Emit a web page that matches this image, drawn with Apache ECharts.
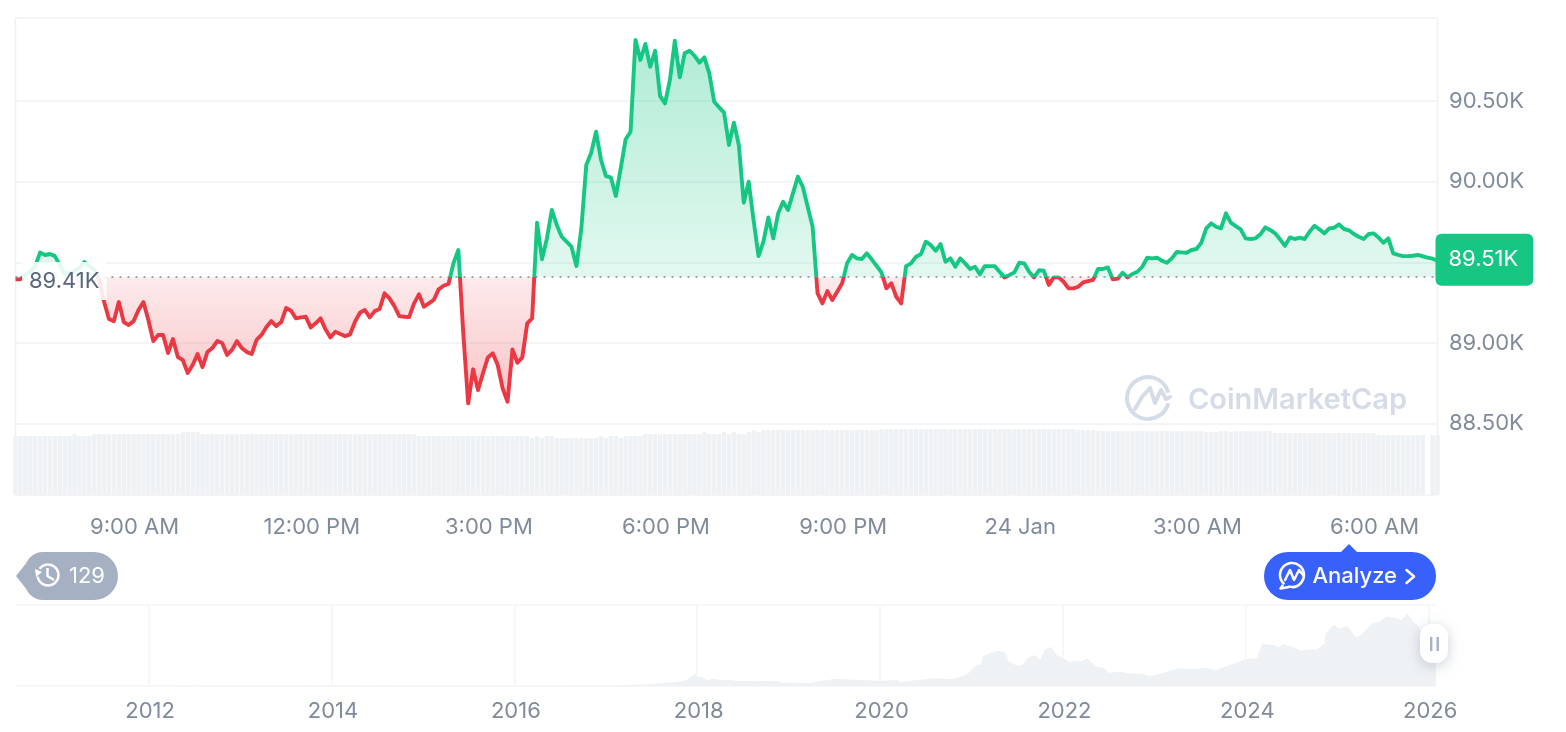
<!DOCTYPE html>
<html>
<head>
<meta charset="utf-8">
<style>
  html, body { margin: 0; padding: 0; background: #fff; }
  #chart { width: 1566px; height: 732px; }
</style>
<script src="https://cdn.jsdelivr.net/npm/echarts@6/dist/echarts.min.js"></script>
</head>
<body>
<div id="chart"></div>
<script>
   // price every 5 minutes
   var prices = [
      89395,89395,89422,89440,89477,89561,89546,89552,89539,89484,89428,89434,89446,89465,89502,89477,89453,89391,89256,89149,
      89136,89254,89130,89112,89136,89205,89254,89143,89012,89050,89050,88938,89025,88913,88895,88814,88864,88932,88851,88944,
      88969,89012,89000,88926,88957,89012,88969,88944,88932,89019,89050,89099,89136,89105,89130,89217,89200,89153,89159,89163,
      89097,89122,89153,89085,89035,89070,89056,89043,89054,89132,89188,89205,89159,89198,89211,89308,89277,89229,89167,89163,
      89161,89246,89302,89225,89246,89267,89333,89355,89366,89494,89577,89062,88626,88837,88709,88812,88911,88936,88864,88719,
      88636,88961,88878,88911,89122,89153,89746,89519,89649,89825,89732,89659,89628,89597,89477,89711,90104,90180,90310,90135,
      90035,90027,89911,90083,90263,90310,90879,90755,90854,90713,90812,90531,90486,90631,90874,90647,90796,90812,90781,90738,
      90771,90672,90496,90461,90428,90228,90366,90228,89870,90000,89763,89539,89628,89779,89649,89804,89876,89825,89928,90031,
      89969,89845,89721,89310,89246,89322,89267,89318,89370,89494,89546,89525,89521,89556,89519,89479,89438,89339,89370,89287,
      89246,89477,89494,89535,89550,89628,89608,89572,89614,89504,89525,89473,89525,89494,89459,89473,89426,89477,89477,89477,
      89442,89407,89422,89438,89498,89494,89442,89407,89451,89448,89360,89407,89407,89380,89339,89339,89349,89376,89384,89391,
      89459,89459,89469,89395,89399,89436,89407,89428,89442,89473,89529,89525,89529,89510,89498,89525,89564,89562,89560,89577,
      89583,89622,89711,89742,89721,89711,89804,89746,89725,89705,89649,89645,89649,89674,89717,89701,89680,89643,89603,89655,
      89645,89653,89645,89690,89727,89705,89680,89711,89715,89736,89707,89699,89676,89659,89645,89676,89680,89655,89622,89649,
      89556,89546,89539,89539,89541,89546,89538,89529,89523,89510
   ];
   // relative volume, same 5 minute steps
   var volumes = [
      59,59,59,59,59,59,59,59,59,59,59,59,61,59,59,59,61,61,61,61,
      61,61,61,61,61,61,61,61,61,61,61,61,61,61,63,63,63,63,61,61,
      61,61,61,61,61,61,61,61,61,61,61,61,61,61,61,61,61,61,61,61,
      61,61,61,61,61,61,61,61,61,61,61,61,61,61,61,61,61,61,61,61,
      61,61,59,59,59,59,59,59,59,59,59,59,59,59,59,59,59,59,59,59,
      59,59,59,59,59,57,59,57,59,59,57,57,57,57,57,57,57,57,57,59,
      57,59,59,57,59,59,59,59,61,61,61,61,61,61,61,61,61,61,61,61,
      63,61,61,61,63,61,63,61,61,63,65,63,65,65,65,65,65,65,65,65,
      65,65,65,65,65,65,65,65,65,65,65,65,65,65,65,65,66,66,66,66,
      66,66,66,66,66,66,66,66,66,66,66,66,66,66,66,66,66,66,66,66,
      66,66,66,66,66,66,66,66,66,66,66,66,66,66,66,66,65,65,65,65,
      64,64,64,64,64,64,64,64,64,64,64,64,64,64,64,64,64,64,64,64,
      64,64,63,63,63,64,64,63,64,64,64,64,64,64,64,64,62,62,62,62,
      62,62,62,62,62,62,62,62,62,62,62,62,62,62,62,62,62,60,60,60,
      60,60,60,60,60,60,60,null,60,60
   ];
   var priceTicks = [88500, 89000, 89500, 90000, 90500];
   var basePrice = 89410;
   var lastPriceLabel = '89.51K';
   var timeLabels = ['9:00 AM', '12:00 PM', '3:00 PM', '6:00 PM', '9:00 PM', '24 Jan', '3:00 AM', '6:00 AM'];

   // all-time overview below the main chart, price in thousands
   var navYears = [
      2010.55,2012,2014.01,2016,2016.93,2017.37,2017.59,2017.77,2017.88,2017.94,2017.97,2018.01,2018.06,2018.11,2018.19,2018.26,2018.33,2018.46,2018.61,2018.9,
      2018.93,2019.23,2019.37,2019.52,2019.7,2019.85,2020,2020.18,2020.23,2020.43,2020.62,2020.79,2020.9,2020.96,2021.01,2021.07,2021.1,2021.12,2021.2,2021.29,
      2021.37,2021.41,2021.45,2021.5,2021.56,2021.61,2021.69,2021.75,2021.8,2021.87,2021.93,2021.98,2022.07,2022.15,2022.2,2022.26,2022.37,2022.46,2022.49,2022.62,
      2022.73,2022.87,2022.93,2023.02,2023.13,2023.28,2023.46,2023.53,2023.68,2023.8,2023.97,2024.06,2024.12,2024.18,2024.29,2024.37,2024.4,2024.51,2024.61,2024.68,
      2024.77,2024.86,2024.87,2024.97,2025.01,2025.11,2025.21,2025.26,2025.37,2025.46,2025.54,2025.66,2025.7,2025.77,2025.83,2025.88,2025.94,2026.08
   ];
   var navPrices = [
      0,0.01,0.8,0.43,0.8,2,4.6,6.9,10.3,17,20.7,16,15,10.3,12.6,9.8,10.9,8.6,9.1,8.1,
      5.7,5.2,9.1,12.6,10.9,10.3,8.6,10.9,7.4,10.9,13.3,12.1,17.2,20.7,30.5,37.4,36.2,50.5,56.4,60.9,
      58.1,41.9,39.1,35,36.2,47.8,53.4,44.8,62,67.8,53.4,49.5,41.9,43.6,41.9,47.8,33.3,30.5,22.9,24.7,
      21.9,20.7,17.8,19,24.7,30.5,28.8,31.6,27.6,35,44.8,47.8,47.8,73.6,70.7,66.7,72.4,67.8,60.9,63.3,
      63.3,73.6,90.9,106.9,99.5,103.4,84,87.9,106.9,110.9,120.7,116.7,113.8,125.3,110.9,105,88,89.5
   ];
   var navTicks = [2012, 2014, 2016, 2018, 2020, 2022, 2024, 2026];

   var GREEN = '#16c784', RED = '#ea3943', TEXT = '#808a9d', LINE = '#eff2f5', BAR = '#eff2f5';
   var FONT = 'Inter';

   // 5 minute categories starting at 7:00 AM
   var times = [];
   for (var i = 0; i < prices.length; i++) {
      var m = 420 + i * 5, h = Math.floor(m / 60) % 24, mm = m % 60;
      var t = (h % 12 === 0 ? 12 : h % 12) + ':' + (mm < 10 ? '0' : '') + mm + (h < 12 ? ' AM' : ' PM');
      times.push(h === 0 && mm === 0 ? '24 Jan' : t);
   }

   var navData = [];
   for (var j = 0; j < navYears.length; j++) navData.push([navYears[j], navPrices[j]]);

   // where the base price sits in the area polygon, green above and red below
   var pMax = Math.max.apply(null, prices), pMin = Math.min.apply(null, prices);
   var baseStop = (pMax - basePrice) / (pMax - pMin);

   var chart = echarts.init(document.getElementById('chart'));
   var option = {
      animation: false,
      backgroundColor: '#fff',
      textStyle: { fontFamily: FONT },
      grid: [
         { left: 15.5, width: 1422, top: 18, height: 477, show: true, borderColor: LINE, borderWidth: 1.5 },
         { left: 16, width: 1420, top: 605, height: 81 }
      ],
      xAxis: [
         {
            type: 'category', gridIndex: 0, data: times, boundaryGap: false,
            axisLine: { show: false }, axisTick: { show: false }, splitLine: { show: false },
            axisLabel: {
               color: TEXT, fontSize: 22, fontFamily: FONT, margin: 21, padding: [0, 0, 0, 2],
               interval: function (idx, val) { return timeLabels.indexOf(val) >= 0; }
            }
         },
         {
            type: 'value', gridIndex: 1, min: 2010.55, max: 2026.08,
            axisLine: { show: false }, 
            axisTick: { show: false, customValues: navTicks },
            splitLine: { show: true, lineStyle: { color: '#f3f5f7', width: 1.5 } },
            axisLabel: {
               customValues: navTicks, color: TEXT, fontSize: 22, fontFamily: FONT, margin: 14, padding: [0, 0, 0, 3],
               formatter: function (v) { return String(v); }
            }
         }
      ],
      yAxis: [
         {
            type: 'value', gridIndex: 0, position: 'right', min: 88058, max: 91015,
            axisLine: { show: false },
            axisTick: { show: false, customValues: priceTicks },
            splitLine: { show: true, lineStyle: { color: LINE, width: 1.5 } },
            axisLabel: {
               customValues: priceTicks, color: TEXT, fontSize: 22, fontFamily: FONT, margin: 11.5,
               formatter: function (v) { return (v / 1000).toFixed(2) + 'K'; }
            }
         },
         {
            type: 'value', gridIndex: 0, min: 0, max: 477, show: false, splitLine: { show: false }
         },
         {
            type: 'value', gridIndex: 1, min: 0, max: 140, interval: 140,
            axisLine: { show: false }, axisTick: { show: false }, axisLabel: { show: false },
            splitLine: { show: true, lineStyle: { color: '#f3f5f7', width: 1.5 } }
         }
      ],
      visualMap: {
         show: false, type: 'piecewise', seriesIndex: 1, dimension: 1,
         // both pieces need finite ends or the line gets no colour stops
         pieces: [{ gte: 80000, lt: basePrice, color: RED }, { gte: basePrice, lte: 100000, color: GREEN }]
      },
      series: [
         {
            name: 'Volume', type: 'bar', xAxisIndex: 0, yAxisIndex: 1, data: volumes, barWidth: 4.5,
            silent: true, itemStyle: { color: BAR, borderRadius: [1, 1, 0, 0] }, z: 1
         },
         {
            name: 'Price', type: 'line', xAxisIndex: 0, yAxisIndex: 0, data: prices, z: 3,
            showSymbol: false, symbol: 'none', smooth: false, sampling: false,
            lineStyle: { width: 3.9, join: 'round' },
            areaStyle: {
               origin: basePrice, opacity: 1,
               color: {
                  type: 'linear', x: 0, y: 0, x2: 0, y2: 1,
                  colorStops: [
                     { offset: 0, color: 'rgba(22,199,132,0.34)' },
                     { offset: baseStop, color: 'rgba(22,199,132,0.12)' },
                     { offset: baseStop, color: 'rgba(234,57,67,0.1)' },
                     { offset: 1, color: 'rgba(234,57,67,0.3)' }
                  ]
               }
            },
            endLabel: {
               show: true, formatter: lastPriceLabel, distance: -2, offset: [0, -1],
               color: '#fff', fontSize: 22, fontFamily: FONT, lineHeight: 22,
               backgroundColor: GREEN, borderRadius: 6, padding: [15, 15, 15, 13]
            },
            markLine: {
               silent: true, symbol: 'none', animation: false,
               lineStyle: { type: [2, 6], color: TEXT, width: 1.5 },
               label: {
                  show: true, position: 'insideStartBottom', formatter: (basePrice / 1000).toFixed(2) + 'K',
                  color: '#58667e', fontSize: 22, fontFamily: FONT, lineHeight: 22, distance: [6.5, -15],
                  backgroundColor: 'rgba(255,255,255,0.88)', padding: [8, 7, 8, 7]
               },
               data: [{ yAxis: basePrice }]
            }
         },
         {
            name: 'All time', type: 'line', xAxisIndex: 1, yAxisIndex: 2, data: navData,
            showSymbol: false, symbol: 'none', silent: true,
            lineStyle: { width: 0 }, areaStyle: { color: BAR, opacity: 1 }
         }
      ],
      graphic: [
         // watermark
         { type: 'arc', z: 2, shape: { cx: 1148, cy: 398, r: 21, startAngle: 0.08 * Math.PI, endAngle: 1.92 * Math.PI, clockwise: true },
           style: { stroke: '#d5dce8', lineWidth: 4, fill: null } },
         { type: 'polyline', z: 2, shape: { points: [[1135, 409], [1142, 397], [1150, 388], [1155, 403], [1161, 390], [1166, 399], [1170, 397]] },
           style: { stroke: '#d5dce8', lineWidth: 4, fill: null, lineJoin: 'round', lineCap: 'round' } },
         { type: 'text', z: 2, style: { x: 1188, y: 400, text: 'CoinMarketCap', fill: '#d5dce8', font: '600 29px Inter', verticalAlign: 'middle' } },

         // history pill
         { type: 'polygon', z: 5, shape: { points: [[16, 576], [31, 557], [31, 595]] }, style: { fill: '#a6b0c3' } },
         { type: 'rect', z: 5, shape: { x: 25, y: 552, width: 93, height: 48, r: [18, 24, 24, 18] }, style: { fill: '#a6b0c3' } },
         { type: 'arc', z: 6, shape: { cx: 48, cy: 575, r: 10.5, startAngle: 1.2 * Math.PI, endAngle: 0.95 * Math.PI, clockwise: true },
           style: { stroke: '#fff', lineWidth: 2.4, fill: null } },
         { type: 'polyline', z: 6, shape: { points: [[47.5, 568], [47.5, 576], [54, 580]] }, style: { stroke: '#fff', lineWidth: 2.4, fill: null } },
         { type: 'polygon', z: 6, shape: { points: [[35, 569], [42, 572], [36, 577]] }, style: { fill: '#fff' } },
         { type: 'text', z: 6, style: { x: 69, y: 576, text: '129', fill: '#fff', font: '22px Inter', verticalAlign: 'middle' } },

         // analyze button
         { type: 'polygon', z: 5, shape: { points: [[1349, 544], [1340, 553], [1358, 553]] }, style: { fill: '#3861fb' } },
         { type: 'rect', z: 5, shape: { x: 1264, y: 552, width: 172, height: 48, r: 24 }, style: { fill: '#3861fb' } },
         { type: 'arc', z: 6, shape: { cx: 1292, cy: 575, r: 12, startAngle: 0.72 * Math.PI, endAngle: 0.6 * Math.PI, clockwise: true },
           style: { stroke: '#fff', lineWidth: 2.5, fill: null } },
         { type: 'polyline', z: 6, shape: { points: [[1283, 585], [1280.5, 588.5], [1289, 587]] }, style: { stroke: '#fff', lineWidth: 2.5, fill: null, lineJoin: 'round' } },
         { type: 'polyline', z: 6, shape: { points: [[1285, 580], [1290, 570], [1294, 580], [1299, 570], [1303, 575]] },
           style: { stroke: '#fff', lineWidth: 2.5, fill: null, lineJoin: 'round', lineCap: 'round' } },
         { type: 'text', z: 6, style: { x: 1312.5, y: 576, text: 'Analyze', fill: '#fff', font: '500 22px Inter', verticalAlign: 'middle' } },
         { type: 'polyline', z: 6, shape: { points: [[1406.5, 570], [1414, 576.5], [1406.5, 583]] },
           style: { stroke: '#fff', lineWidth: 2.5, fill: null, lineCap: 'round', lineJoin: 'round' } },

         // overview handle
         { type: 'rect', z: 7, shape: { x: 1420, y: 624, width: 28, height: 39, r: 12 },
           style: { fill: '#fff', shadowBlur: 14, shadowColor: 'rgba(128,138,157,0.4)', shadowOffsetY: 3 } },
         { type: 'rect', z: 8, shape: { x: 1430, y: 637, width: 2.4, height: 14 }, style: { fill: '#a6b0c3' } },
         { type: 'rect', z: 8, shape: { x: 1436.5, y: 637, width: 2.4, height: 14 }, style: { fill: '#a6b0c3' } }
      ]
   };
   chart.setOption(option);
</script>
</body>
</html>
